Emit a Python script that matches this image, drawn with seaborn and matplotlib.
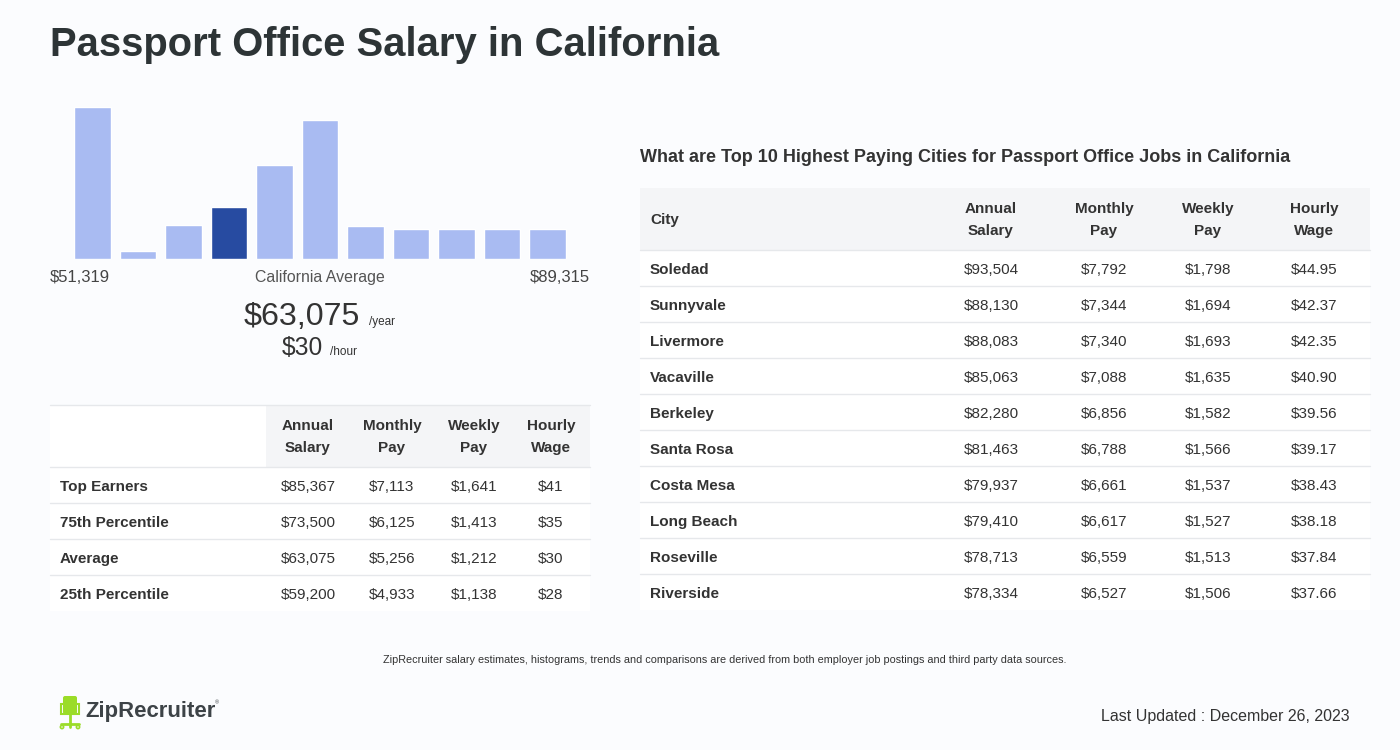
import matplotlib.pyplot as plt
import matplotlib.patches as mpatches
import seaborn as sns
import pandas as pd

# histogram bins (relative heights), 4th bin is the average
bin_heights = [152, 8, 34, 52, 94, 139, 33, 30, 30, 30, 30]
avg_bin = 3
range_low = "$51,319"
range_high = "$89,315"

# left summary table
summary_rows = ["Top Earners", "75th Percentile", "Average", "25th Percentile"]
summary_annual = ["$85,367", "$73,500", "$63,075", "$59,200"]
summary_monthly = ["$7,113", "$6,125", "$5,256", "$4,933"]
summary_weekly = ["$1,641", "$1,413", "$1,212", "$1,138"]
summary_hourly = ["$41", "$35", "$30", "$28"]

# right city table
cities = ["Soledad", "Sunnyvale", "Livermore", "Vacaville", "Berkeley",
          "Santa Rosa", "Costa Mesa", "Long Beach", "Roseville", "Riverside"]
city_annual = ["$93,504", "$88,130", "$88,083", "$85,063", "$82,280",
               "$81,463", "$79,937", "$79,410", "$78,713", "$78,334"]
city_monthly = ["$7,792", "$7,344", "$7,340", "$7,088", "$6,856",
                "$6,788", "$6,661", "$6,617", "$6,559", "$6,527"]
city_weekly = ["$1,798", "$1,694", "$1,693", "$1,635", "$1,582",
               "$1,566", "$1,537", "$1,527", "$1,513", "$1,506"]
city_hourly = ["$44.95", "$42.37", "$42.35", "$40.90", "$39.56",
               "$39.17", "$38.43", "$38.18", "$37.84", "$37.66"]

BG = "#fbfcfe"
TXT = "#2d3436"
BODY = "#333333"
HEAD_BG = "#f4f5f7"
LINE = "#e6e8eb"
LIGHT = "#a9bbf2"
DARK = "#274ba1"

sns.set_theme(style="white")
plt.rcParams["font.family"] = ["Liberation Sans", "DejaVu Sans"]

W, H = 1400, 750
fig = plt.figure(figsize=(14, 7.5), dpi=100, facecolor=BG)

# full-figure canvas in pixel coordinates
bg = fig.add_axes([0, 0, 1, 1])
bg.set_xlim(0, W)
bg.set_ylim(H, 0)
bg.axis("off")
bg.set_facecolor(BG)

bg.text(50, 45, "Passport Office Salary in California", fontsize=28.8,
        fontweight="bold", color=TXT, va="center", ha="left")

# histogram
hx0, hx1 = 69.75, 570.25
hy_top, hy_bot = 107, 259
hax = fig.add_axes([hx0 / W, 1 - hy_bot / H, (hx1 - hx0) / W, (hy_bot - hy_top) / H])
hist_df = pd.DataFrame({"bin": [str(i) for i in range(len(bin_heights))],
                        "height": bin_heights})
colors = [DARK if i == avg_bin else LIGHT for i in range(len(bin_heights))]
sns.barplot(data=hist_df, x="bin", y="height", hue="bin", palette=colors,
            legend=False, width=0.81, saturation=1, ax=hax)
hax.set_xlim(-0.5, len(bin_heights) - 0.5)
hax.set_ylim(0, max(bin_heights))
hax.axis("off")

bg.text(50, 282, range_low, fontsize=12, color="#444444", va="baseline", ha="left")
bg.text(590, 282, range_high, fontsize=12, color="#444444", va="baseline", ha="right")
bg.text(320, 282, "California Average", fontsize=11.4, color="#555555",
        va="baseline", ha="center")
bg.text(360, 325, "$63,075", fontsize=23.2, color=BODY, va="baseline", ha="right")
bg.text(369, 325, "/year", fontsize=8.5, color=BODY, va="baseline", ha="left")
bg.text(323, 355, "$30", fontsize=17.7, color=BODY, va="baseline", ha="right")
bg.text(330, 355, "/hour", fontsize=8.5, color=BODY, va="baseline", ha="left")

# left table
lt_x0, lt_x1 = 50, 590
bg.add_patch(mpatches.Rectangle((lt_x0, 405), lt_x1 - lt_x0, 206,
                                facecolor="white", edgecolor="none"))
bg.add_patch(mpatches.Rectangle((266, 405), lt_x1 - 266, 62,
                                facecolor=HEAD_BG, edgecolor="none"))
bg.plot([lt_x0, lt_x1], [405, 405], color=LINE, lw=1)
left_heads = ["Annual\nSalary", "Monthly\nPay", "Weekly\nPay", "Hourly\nWage"]
left_cx = [308, 392, 474, 551]
for cx, head in zip(left_cx, left_heads):
    bg.text(cx, 437, head, fontsize=11, fontweight="bold", color=BODY,
            ha="center", va="center", linespacing=1.7)
left_cols = [summary_annual, summary_monthly, summary_weekly, summary_hourly]
for i, name in enumerate(summary_rows):
    top = 467 + 36 * i
    bg.plot([lt_x0, lt_x1], [top, top], color=LINE, lw=1)
    yb = top + 24
    bg.text(60, yb, name, fontsize=11, fontweight="bold", color=BODY,
            ha="left", va="baseline")
    for cx, col in zip(left_cx, left_cols):
        bg.text(cx, yb, col[i], fontsize=11, color=BODY, ha="center", va="baseline")

# right table
bg.text(640, 157, "What are Top 10 Highest Paying Cities for Passport Office Jobs in California",
        fontsize=13, fontweight="bold", color=BODY, ha="left", va="center")
rt_x0, rt_x1 = 640, 1370
bg.add_patch(mpatches.Rectangle((rt_x0, 188), rt_x1 - rt_x0, 62,
                                facecolor=HEAD_BG, edgecolor="none"))
bg.add_patch(mpatches.Rectangle((rt_x0, 250), rt_x1 - rt_x0, 360,
                                facecolor="white", edgecolor="none"))
right_cx = [991, 1104, 1208, 1314]
bg.text(650, 220, "City", fontsize=11, fontweight="bold", color=BODY,
        ha="left", va="center")
for cx, head in zip(right_cx, left_heads):
    bg.text(cx, 220, head, fontsize=11, fontweight="bold", color=BODY,
            ha="center", va="center", linespacing=1.7)
right_cols = [city_annual, city_monthly, city_weekly, city_hourly]
for i, city in enumerate(cities):
    top = 250 + 36 * i
    bg.plot([rt_x0, rt_x1], [top, top], color=LINE, lw=1)
    yb = top + 24
    bg.text(650, yb, city, fontsize=11, fontweight="bold", color=BODY,
            ha="left", va="baseline")
    for cx, col in zip(right_cx, right_cols):
        bg.text(cx, yb, col[i], fontsize=11, color=BODY, ha="center", va="baseline")

# footnote
bg.text(725, 660, "ZipRecruiter salary estimates, histograms, trends and comparisons "
        "are derived from both employer job postings and third party data sources.",
        fontsize=7.85, color=BODY, ha="center", va="center")

# logo: little green chair + wordmark
green = "#9bdc28"
bg.add_patch(mpatches.FancyBboxPatch((63, 696), 14, 18, boxstyle="round,pad=0,rounding_size=2",
                                     facecolor=green, edgecolor="none"))
bg.add_patch(mpatches.Rectangle((61, 704), 18, 10, facecolor="none",
                                edgecolor=green, lw=1.5))
bg.plot([70, 70], [714, 727], color=green, lw=2)
bg.plot([61, 79], [724, 724], color=green, lw=2)
bg.add_patch(mpatches.Circle((62, 727), 1.6, facecolor="none", edgecolor=green, lw=1.2))
bg.add_patch(mpatches.Circle((78, 727), 1.6, facecolor="none", edgecolor=green, lw=1.2))
bg.text(85, 712, "ZipRecruiter", fontsize=15.9, fontweight="bold", color="#3d4347",
        ha="left", va="center")
bg.text(215, 703, "®", fontsize=4, color="#3d4347", ha="left", va="center")

bg.text(1350, 721, "Last Updated : December 26, 2023", fontsize=11.5,
        color=BODY, ha="right", va="baseline")

fig.savefig("out.png", dpi=100, facecolor=BG)
